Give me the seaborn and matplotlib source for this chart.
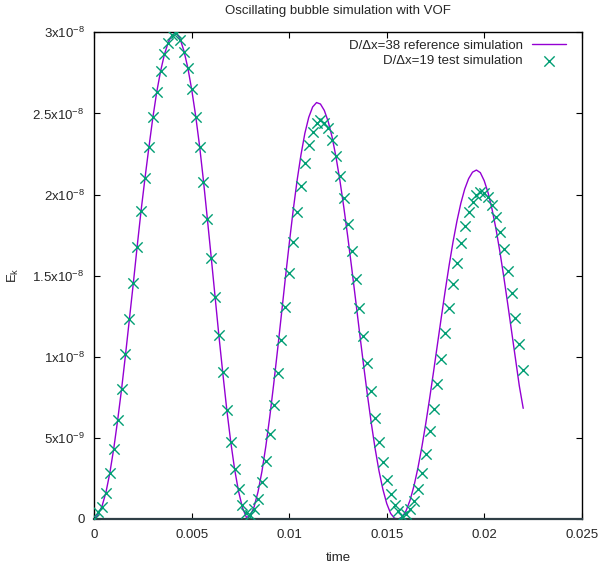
import matplotlib
matplotlib.use('Agg')
import matplotlib.pyplot as plt
import seaborn as sns

# Data (energies in units of 1e-9)
time = [0.0, 0.0002, 0.0004, 0.0006, 0.0008, 0.001, 0.0012, 0.0014, 0.0016, 0.0018,
        0.002, 0.0022, 0.0024, 0.0026, 0.0028, 0.003, 0.0032, 0.0034, 0.0036, 0.0038,
        0.004, 0.0042, 0.0044, 0.0046, 0.0048, 0.005, 0.0052, 0.0054, 0.0056, 0.0058,
        0.006, 0.0062, 0.0064, 0.0066, 0.0068, 0.007, 0.0072, 0.0074, 0.0076, 0.0078,
        0.008, 0.0082, 0.0084, 0.0086, 0.0088, 0.009, 0.0092, 0.0094, 0.0096, 0.0098,
        0.01, 0.0102, 0.0104, 0.0106, 0.0108, 0.011, 0.0112, 0.0114, 0.0116, 0.0118,
        0.012, 0.0122, 0.0124, 0.0126, 0.0128, 0.013, 0.0132, 0.0134, 0.0136, 0.0138,
        0.014, 0.0142, 0.0144, 0.0146, 0.0148, 0.015, 0.0152, 0.0154, 0.0156, 0.0158,
        0.016, 0.0162, 0.0164, 0.0166, 0.0168, 0.017, 0.0172, 0.0174, 0.0176, 0.0178,
        0.018, 0.0182, 0.0184, 0.0186, 0.0188, 0.019, 0.0192, 0.0194, 0.0196, 0.0198,
        0.02, 0.0202, 0.0204, 0.0206, 0.0208, 0.021, 0.0212, 0.0214, 0.0216, 0.0218,
        0.022]

ek_ref = [0.0, 0.3, 0.8, 1.65, 2.85, 4.35, 6.1, 8.0, 10.1, 12.3,
          14.5, 16.8, 19.0, 21.0, 22.9, 24.7, 26.3, 27.6, 28.65, 29.4,
          29.85, 29.95, 29.6, 28.85, 27.8, 26.45, 24.85, 23.0, 20.85, 18.5,
          16.1, 13.65, 11.2, 8.9, 6.7, 4.75, 3.05, 1.7, 0.7, 0.1,
          0.19, 0.76, 1.68, 2.94, 4.49, 6.29, 8.29, 10.42, 12.62, 14.84,
          16.98, 19.01, 20.85, 22.44, 23.77, 24.76, 25.4, 25.67, 25.58, 25.18,
          24.49, 23.53, 22.3, 20.85, 19.2, 17.41, 15.5, 13.54, 11.55, 9.6,
          7.73, 5.97, 4.37, 2.98, 1.84, 0.95, 0.34, 0.04, 0.0, 0.13,
          0.53, 1.17, 2.05, 3.15, 4.43, 5.87, 7.43, 9.07, 10.76, 12.44,
          14.08, 15.64, 17.08, 18.36, 19.46, 20.34, 20.98, 21.38, 21.51, 21.35,
          20.85, 20.1, 19.1, 17.9, 16.5, 14.95, 13.3, 11.6, 9.9, 8.2,
          6.82]

ek_test = [0.0, 0.45, 0.76, 1.62, 2.82, 4.31, 6.1, 8.0, 10.2, 12.3,
           14.55, 16.78, 18.98, 21.0, 22.95, 24.76, 26.3, 27.63, 28.66, 29.36,
           29.83, 29.94, 29.5, 28.77, 27.8, 26.5, 24.8, 22.95, 20.8, 18.47,
           16.07, 13.7, 11.35, 9.05, 6.7, 4.76, 3.1, 1.82, 0.89, 0.35,
           0.25, 0.6, 1.22, 2.28, 3.6, 5.22, 7.03, 9.0, 11.05, 13.09,
           15.15, 17.06, 18.92, 20.53, 21.96, 23.05, 23.87, 24.39, 24.59, 24.39,
           24.08, 23.36, 22.38, 21.16, 19.77, 18.18, 16.52, 14.78, 12.99, 11.3,
           9.6, 7.9, 6.2, 4.75, 3.51, 2.43, 1.54, 0.88, 0.51, 0.2,
           0.3, 0.62, 1.13, 1.86, 2.82, 4.02, 5.45, 6.8, 8.3, 9.86,
           11.48, 12.99, 14.47, 15.8, 17.03, 18.06, 18.9, 19.52, 19.97, 20.14,
           20.11, 19.87, 19.36, 18.6, 17.71, 16.62, 15.3, 13.91, 12.41, 10.79,
           9.18]

xticks = [0, 0.005, 0.01, 0.015, 0.02, 0.025]
xtick_labels = ['0', '0.005', '0.01', '0.015', '0.02', '0.025']
yticks = [0, 5e-9, 1e-8, 1.5e-8, 2e-8, 2.5e-8, 3e-8]
ytick_labels = ['0', r'5x10$^{-9}$', r'1x10$^{-8}$', r'1.5x10$^{-8}$',
                r'2x10$^{-8}$', r'2.5x10$^{-8}$', r'3x10$^{-8}$']

ref_label = 'D/Δx=38 reference simulation'
test_label = 'D/Δx=19 test simulation'

sns.set_style('ticks')
plt.rcParams['font.family'] = ['Liberation Sans', 'DejaVu Sans']
plt.rcParams['mathtext.fontset'] = 'custom'
plt.rcParams['mathtext.rm'] = 'Liberation Sans'
plt.rcParams['mathtext.it'] = 'Liberation Sans:italic'
plt.rcParams['mathtext.default'] = 'regular'
plt.rcParams['axes.unicode_minus'] = False

fs = 9.5
y_ref = [v * 1e-9 for v in ek_ref]
y_test = [v * 1e-9 for v in ek_test]

fig = plt.figure(figsize=(6.02, 5.67), dpi=100)
ax = fig.add_axes([0.1566, 0.0847, 0.8097, 0.8583])

sns.lineplot(x=time, y=y_ref, color='#9400d3', linewidth=1.0, label=ref_label, ax=ax)
sns.scatterplot(x=time, y=y_test, color='#009e73', marker='x', s=55, linewidth=1.0,
                label=test_label, ax=ax, zorder=3)

ax.set_xlim(0, 0.025)
ax.set_ylim(0, 3e-8)
ax.set_xticks(xticks)
ax.set_xticklabels(xtick_labels)
ax.set_yticks(yticks)
ax.set_yticklabels(ytick_labels)
ax.tick_params(direction='in', top=True, right=True, length=4.5, width=0.8,
               labelsize=fs, color='black')
ax.tick_params(axis='x', pad=7)
ax.tick_params(axis='y', pad=7)
for s in ax.spines.values():
    s.set_color('black')
    s.set_linewidth(1.0)
ax.spines['bottom'].set_color('#2f3f46')
ax.spines['bottom'].set_linewidth(1.6)

ax.set_title('Oscillating bubble simulation with VOF', fontsize=fs, pad=13)
ax.set_xlabel('time', fontsize=fs, labelpad=8)
ax.set_ylabel(r'E$_k$', fontsize=fs)
ax.yaxis.set_label_coords(-0.15, 0.5)

leg = ax.legend(loc='upper right', bbox_to_anchor=(0.992, 1.01), frameon=False,
                markerfirst=False, fontsize=fs, handlelength=2.6, handletextpad=0.65,
                labelspacing=0.24, borderaxespad=0.6, borderpad=0.3)

fig.savefig('out.png', dpi=100)
